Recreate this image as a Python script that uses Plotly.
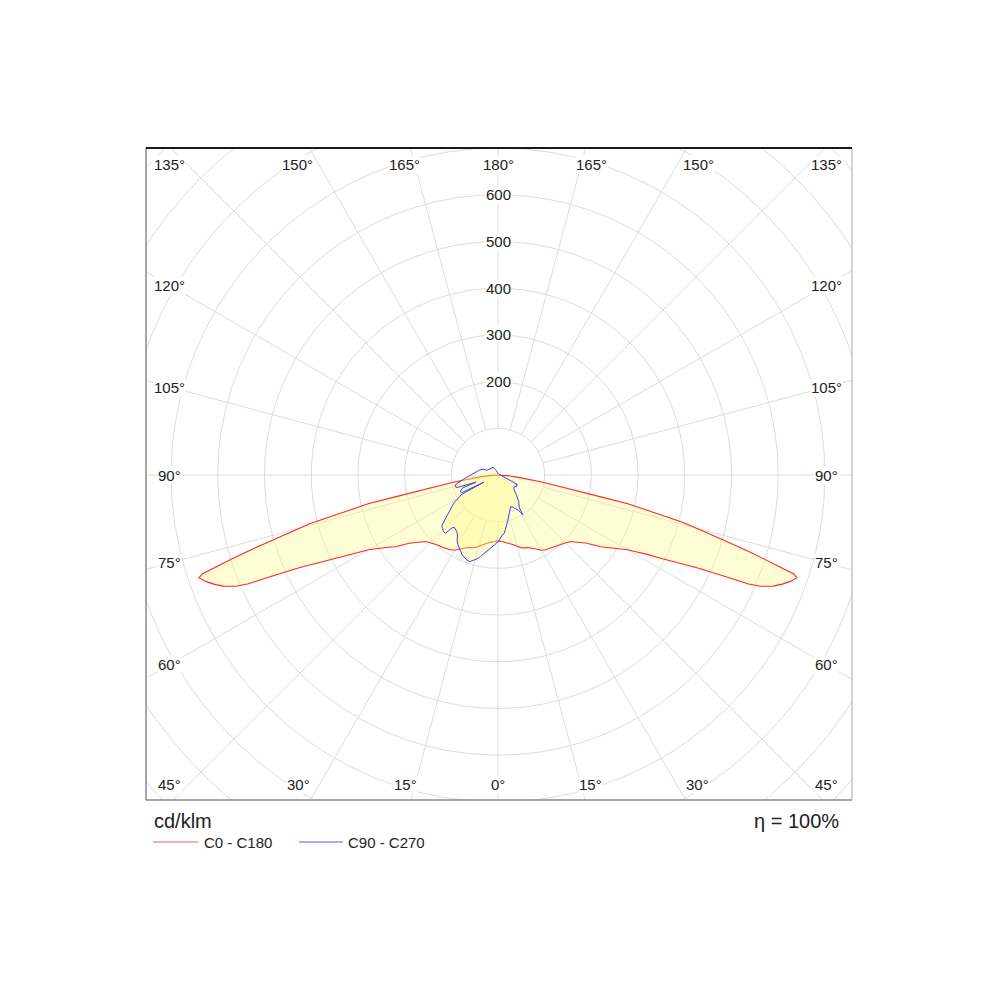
import numpy as np
import plotly.graph_objects as go

# ---------------- data (cd/klm) ----------------
# C0 - C180 plane (symmetric), gamma in degrees from nadir
C0_GAMMA = [0, 2.5, 5, 7.5, 10, 12.5, 15, 17.5, 20, 22.5, 25, 27.5, 30, 32.5, 35, 37.5, 40, 42.5, 45, 47.5,
            50, 52.5, 55, 57.5, 60, 61, 62, 63, 64, 65, 66, 66.5, 67, 68, 69, 70, 71, 71.5, 72, 72.5,
            73, 74, 75, 75.5, 76, 77, 77.5, 78, 79, 80, 81, 82, 83, 84, 86, 88, 90]
C0_VALUES = [141, 142, 144, 146, 149, 153, 158, 163, 166, 168, 173, 180, 186, 190, 192, 195, 197, 200, 205, 211,
             225, 240, 268, 290, 320, 340, 362, 395, 430, 470, 540, 585, 610, 635, 652, 666, 677, 668, 630, 598,
             565, 497, 440, 415, 380, 310, 285, 225, 165, 115, 90, 68, 50, 38, 20, 8, 0]
C180_GAMMA = C0_GAMMA
C180_VALUES = C0_VALUES

# C90 - C270 plane
C90_GAMMA = [0, 2, 4, 6, 8, 10, 12, 14, 16, 18, 20, 22, 24, 26, 28, 30, 31, 32, 33, 34, 36, 38, 40, 42, 44,
             46, 48, 50, 52, 54, 56, 58, 60, 62, 63, 64, 65, 66, 68, 70, 74, 80, 90, 120, 150, 180]
C90_VALUES = [143, 136, 129, 126, 118, 108, 100, 92, 86, 80, 75, 73, 75, 78, 82, 87, 93, 101, 84, 80, 76, 72, 67, 60, 54,
              49, 46, 44, 43, 44, 45, 46, 47, 45, 43, 46, 40, 30, 20, 12, 8, 5, 4, 3, 3, 3]
C270_GAMMA = [0, 3, 6, 9, 12, 14, 16, 18, 20, 22, 24, 26, 28, 30, 32, 34, 36, 38, 40, 41, 42, 44, 46, 48, 50,
              52, 54, 56, 58, 60, 61, 62, 63, 64, 66, 68, 70, 72, 73, 75, 77, 79, 82, 85, 88, 90, 95, 100, 105,
              108, 112, 113, 118, 125, 132, 140, 148, 152, 160, 170, 180]
C270_VALUES = [143, 150, 158, 168, 178, 185, 190, 195, 194, 191, 188, 182, 176, 172, 165, 155, 150, 148, 146, 150, 168,
               168, 165, 162, 148, 136, 126, 118, 110, 100, 92, 88, 34, 86, 88, 85, 80, 50, 92, 95, 94, 85, 78, 70,
               62, 58, 50, 45, 41, 38, 33, 26, 25, 22, 21, 20, 20, 15, 10, 6, 3]

RING_VALUES = [100, 200, 300, 400, 500, 600, 700, 800, 900, 1000, 1100]
RING_LABELS = [200, 300, 400, 500, 600]
ANGLE_TICKS = [0, 15, 30, 45, 60, 75, 90, 105, 120, 135, 150, 165, 180]
SERIES_NAMES = ["C0 - C180", "C90 - C270"]
UNIT_TEXT = "cd/klm"
ETA_TEXT = "η = 100%"

# ---------------- layout geometry ----------------
OFF = 8                         # page body margin of the html page
W = H = 1000
ML, MT = 146 - OFF, 148 - OFF
MR, MB = W - (852 - OFF), H - (800 - OFF)
CX, CY = 498.0 - OFF, 475.0 - OFF   # pixel centre of the diagram (figure coords)
K = 0.467                           # pixels per cd/klm
X0 = -(CX - ML) / K
X1 = (W - MR - CX) / K
Y1 = (CY - MT) / K
Y0 = -(H - MB - CY) / K
SIDE_X = 703.0
TOP_Y = 664.0
BOT_Y = -662.0

FONT = "Liberation Sans, Arial, sans-serif"
GRID = "#dcdcdc"


def to_xy(gamma, values, side):
    g = np.radians(np.asarray(gamma, dtype=float))
    r = np.asarray(values, dtype=float)
    return side * r * np.sin(g), -r * np.cos(g)


def plane_path(g_left, v_left, g_right, v_right):
    xl, yl = to_xy(g_left, v_left, -1)
    xr, yr = to_xy(g_right, v_right, 1)
    x = np.concatenate([xl[::-1], xr, [xl[-1]]])
    y = np.concatenate([yl[::-1], yr, [yl[-1]]])
    return x, y


fig = go.Figure()

# grid rings
t = np.linspace(0, 2 * np.pi, 721)
for rv in RING_VALUES:
    fig.add_trace(go.Scatter(x=rv * np.cos(t), y=rv * np.sin(t), mode="lines",
                             line=dict(color=GRID, width=1), hoverinfo="skip", showlegend=False))
# spokes
sx, sy = [], []
for a in ANGLE_TICKS:
    for side in (-1, 1):
        if side == -1 and a in (0, 180):
            continue
        xs, ys = to_xy([a, a], [RING_VALUES[0], RING_VALUES[-1]], side)
        sx += list(xs) + [None]
        sy += list(ys) + [None]
fig.add_trace(go.Scatter(x=sx, y=sy, mode="lines", line=dict(color=GRID, width=1),
                         hoverinfo="skip", showlegend=False))

FILL = "rgba(255,250,140,0.38)"
x_red, y_red = plane_path(C180_GAMMA, C180_VALUES, C0_GAMMA, C0_VALUES)
fig.add_trace(go.Scatter(x=x_red, y=y_red, mode="lines", fill="toself", fillcolor=FILL,
                         line=dict(color="rgb(255,40,40)", width=1.1), name=SERIES_NAMES[0],
                         showlegend=False))
x_blue, y_blue = plane_path(C270_GAMMA, C270_VALUES, C90_GAMMA, C90_VALUES)
fig.add_trace(go.Scatter(x=x_blue, y=y_blue, mode="lines", fill="toself", fillcolor=FILL,
                         line=dict(color="rgb(60,60,255)", width=1), name=SERIES_NAMES[1],
                         showlegend=False))

annotations = []
lab_font = dict(family=FONT, size=15, color="#222")
# angle labels around the frame
for a in ANGLE_TICKS:
    for side in (-1, 1):
        if side == -1 and a in (0, 180):
            continue
        if a == 45 or a == 135:
            x = side * SIDE_X
            y = BOT_Y if a == 45 else TOP_Y
        elif 45 < a < 135:
            x = side * SIDE_X
            y = -SIDE_X / np.tan(np.radians(a))
        elif a < 45:
            y = BOT_Y
            x = side * (-BOT_Y) * np.tan(np.radians(a)) * 1.12
        else:
            y = TOP_Y
            x = side * TOP_Y * np.tan(np.radians(180 - a)) * 1.12
        if a in (0, 180):
            x = 0.0
        annotations.append(dict(x=x, y=y, xref="x", yref="y", text=f"{a}°", showarrow=False,
                                font=lab_font, bgcolor="white", borderpad=0,
                                xanchor="center", yanchor="middle"))
# radial value labels
for v in RING_LABELS:
    annotations.append(dict(x=0, y=v, xref="x", yref="y", text=str(v), showarrow=False,
                            font=lab_font, bgcolor="white", borderpad=0,
                            xanchor="center", yanchor="middle"))


def px_x(p):
    return (p - OFF - ML) / (W - ML - MR)


def px_y(p):
    return (H - MB - (p - OFF)) / (H - MT - MB)


big_font = dict(family=FONT, size=20, color="#222")
annotations.append(dict(x=px_x(152), y=px_y(821), xref="paper", yref="paper", text=UNIT_TEXT,
                        showarrow=False, font=big_font, xanchor="left", yanchor="middle"))
annotations.append(dict(x=px_x(841), y=px_y(821), xref="paper", yref="paper", text=ETA_TEXT,
                        showarrow=False, font=big_font, xanchor="right", yanchor="middle"))
annotations.append(dict(x=px_x(202), y=px_y(842), xref="paper", yref="paper", text=SERIES_NAMES[0],
                        showarrow=False, font=lab_font, xanchor="left", yanchor="middle"))
annotations.append(dict(x=px_x(346), y=px_y(842), xref="paper", yref="paper", text=SERIES_NAMES[1],
                        showarrow=False, font=lab_font, xanchor="left", yanchor="middle"))

shapes = [
    dict(type="line", xref="paper", yref="paper", x0=px_x(153), x1=px_x(198), y0=px_y(842), y1=px_y(842),
         line=dict(color="#ffaaaa", width=2)),
    dict(type="line", xref="paper", yref="paper", x0=px_x(299), x1=px_x(343), y0=px_y(842), y1=px_y(842),
         line=dict(color="#aaaaff", width=2)),
    # frame
    dict(type="line", xref="paper", yref="paper", x0=0, x1=0, y0=0, y1=1, line=dict(color="#8a8a8a", width=1.5)),
    dict(type="line", xref="paper", yref="paper", x0=0, x1=1, y0=0, y1=0, line=dict(color="#8a8a8a", width=1.5)),
    dict(type="line", xref="paper", yref="paper", x0=1, x1=1, y0=0, y1=1, line=dict(color="#c4c4c4", width=1.5)),
    dict(type="line", xref="paper", yref="paper", x0=0, x1=1, y0=1, y1=1, line=dict(color="#1a1a1a", width=2)),
]

fig.update_layout(
    width=W, height=H,
    margin=dict(l=ML, r=MR, t=MT, b=MB, pad=0),
    paper_bgcolor="white", plot_bgcolor="white",
    xaxis=dict(range=[X0, X1], visible=False, fixedrange=True),
    yaxis=dict(range=[Y0, Y1], visible=False, fixedrange=True),
    annotations=annotations, shapes=shapes, showlegend=False,
)

fig.write_html("out.html")
